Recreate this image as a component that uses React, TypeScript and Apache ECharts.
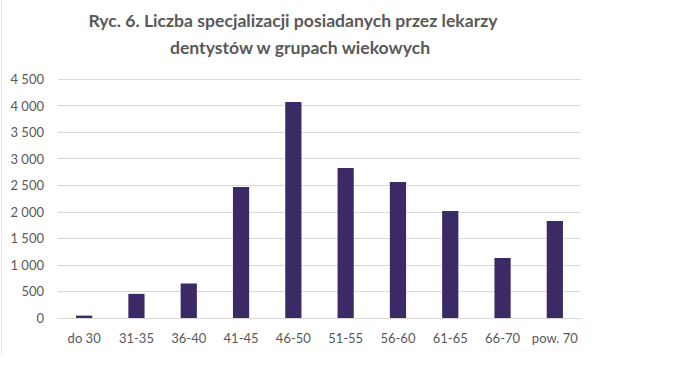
import React, { useEffect, useRef } from "react";
import * as echarts from "echarts";

const categories = ["do 30", "31-35", "36-40", "41-45", "46-50", "51-55", "56-60", "61-65", "66-70", "pow. 70"];
const values = [45, 455, 650, 2465, 4065, 2825, 2560, 2015, 1130, 1825];
const titleLines = ["Ryc. 6. Liczba specjalizacji posiadanych przez lekarzy", "dentystów w grupach wiekowych"];

const fmt = (v: number) => {
  const s = String(Math.round(v));
  return s.replace(/\B(?=(\d{3})+(?!\d))/g, " ");
};

export default function App() {
  const ref = useRef<HTMLDivElement>(null);
  useEffect(() => {
    if (!ref.current) return;
    const chart = echarts.init(ref.current, null, { renderer: "svg" });
    const font = "Lato, 'Open Sans', sans-serif";
    chart.setOption({
      animation: false,
      backgroundColor: "#ffffff",
      textStyle: { fontFamily: font },
      grid: { left: 58, right: 107, top: 79, bottom: 74, containLabel: false },
      graphic: [
        {
          type: "text",
          x: 293,
          y: 20,
          style: {
            text: titleLines[0],
            fill: "#595959",
            font: `bold 17.6px ${font}`,
            textAlign: "center",
            textVerticalAlign: "middle",
          },
        },
        {
          type: "text",
          x: 300,
          y: 47,
          style: {
            text: titleLines[1],
            fill: "#595959",
            font: `bold 17.6px ${font}`,
            textAlign: "center",
            textVerticalAlign: "middle",
          },
        },
        {
          type: "line",
          shape: { x1: 1.5, y1: 0, x2: 1.5, y2: 355 },
          style: { stroke: "#e6e6e6", lineWidth: 1 },
        },
      ],
      xAxis: {
        type: "category",
        data: categories,
        axisLine: { show: true, lineStyle: { color: "#d9d9d9", width: 1 } },
        axisTick: { show: false },
        axisLabel: { color: "#595959", fontSize: 13, margin: 13, fontFamily: font, interval: 0 },
      },
      yAxis: {
        type: "value",
        min: 0,
        max: 4500,
        interval: 500,
        axisLine: { show: false },
        axisTick: { show: false },
        splitLine: { lineStyle: { color: "#d9d9d9", width: 1 } },
        axisLabel: { color: "#595959", fontSize: 13, margin: 14, fontFamily: font, formatter: fmt },
      },
      series: [
        {
          type: "bar",
          data: values,
          barWidth: "31%",
          itemStyle: { color: "#3b2a66" },
        },
      ],
    });
    return () => chart.dispose();
  }, []);
  return (
    <div
      ref={ref}
      style={{ position: "fixed", left: 0, top: 0, width: 688, height: 392 }}
    />
  );
}
